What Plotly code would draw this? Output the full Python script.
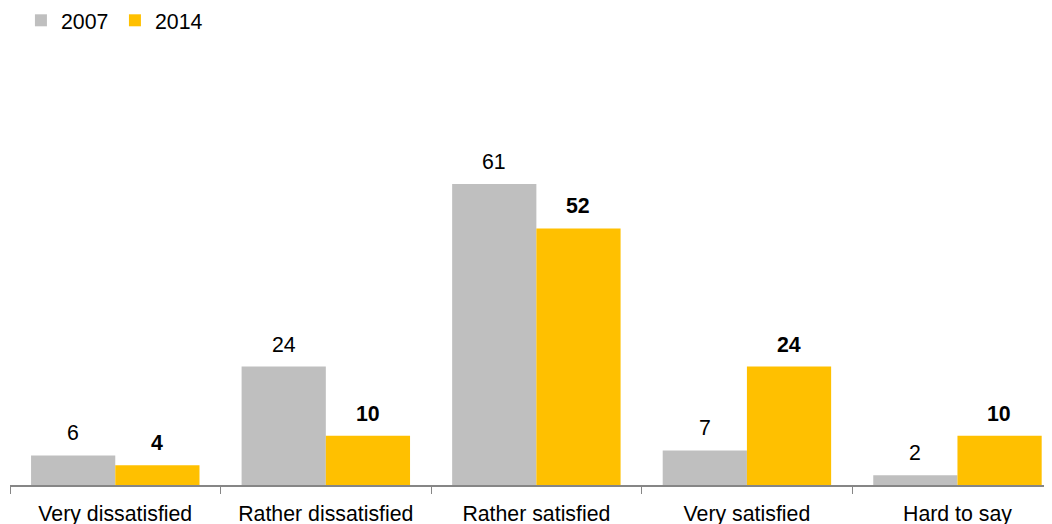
import plotly.graph_objects as go

categories = ["Very dissatisfied", "Rather dissatisfied", "Rather satisfied", "Very satisfied", "Hard to say"]
values_2007 = [6, 24, 61, 7, 2]
values_2014 = [4, 10, 52, 24, 10]
series_names = ["2007", "2014"]
colors = ["#BFBFBF", "#FFC000"]

FONT = "Liberation Sans, Arial, sans-serif"
FS = 21.3

fig = go.Figure()
fig.add_trace(go.Bar(name=series_names[0], x=categories, y=values_2007, marker_color=colors[0],
                     marker_line_width=0))
fig.add_trace(go.Bar(name=series_names[1], x=categories, y=values_2014, marker_color=colors[1],
                     marker_line_width=0))

annotations = []
for c, v in zip(categories, values_2007):
    annotations.append(dict(x=c, y=v, text=str(v), showarrow=False, xshift=-42, yshift=22,
                            yanchor="middle", font=dict(family=FONT, size=FS, color="#000000")))
for c, v in zip(categories, values_2014):
    annotations.append(dict(x=c, y=v, text="<b>%d</b>" % v, showarrow=False, xshift=42, yshift=22,
                            yanchor="middle", font=dict(family=FONT, size=FS, color="#000000")))

fig.update_layout(
    width=1044, height=516,
    margin=dict(l=2, r=0, t=32, b=39, autoexpand=False),
    barmode="group", bargap=0.2, bargroupgap=0,
    plot_bgcolor="white", paper_bgcolor="white",
    font=dict(family=FONT, size=FS, color="#000000"),
    showlegend=True,
    legend=dict(orientation="h", x=0.0105, xanchor="left", y=1.09, yref="paper", yanchor="top",
                font=dict(family=FONT, size=FS, color="#000000"), traceorder="normal",
                itemwidth=30, entrywidth=49, bgcolor="rgba(0,0,0,0)"),
    annotations=annotations,
)
fig.update_xaxes(range=[-0.5, 4.449], showline=True, linecolor="#868686", linewidth=2,
                 ticks="outside", tickson="boundaries", ticklen=7, tickcolor="#868686", tickwidth=1,
                 ticklabelstandoff=8, automargin=False,
                 showgrid=False, tickfont=dict(family=FONT, size=FS, color="#000000"))
fig.update_yaxes(range=[0, 90.2], visible=False, showgrid=False)

fig.write_html("out.html")
